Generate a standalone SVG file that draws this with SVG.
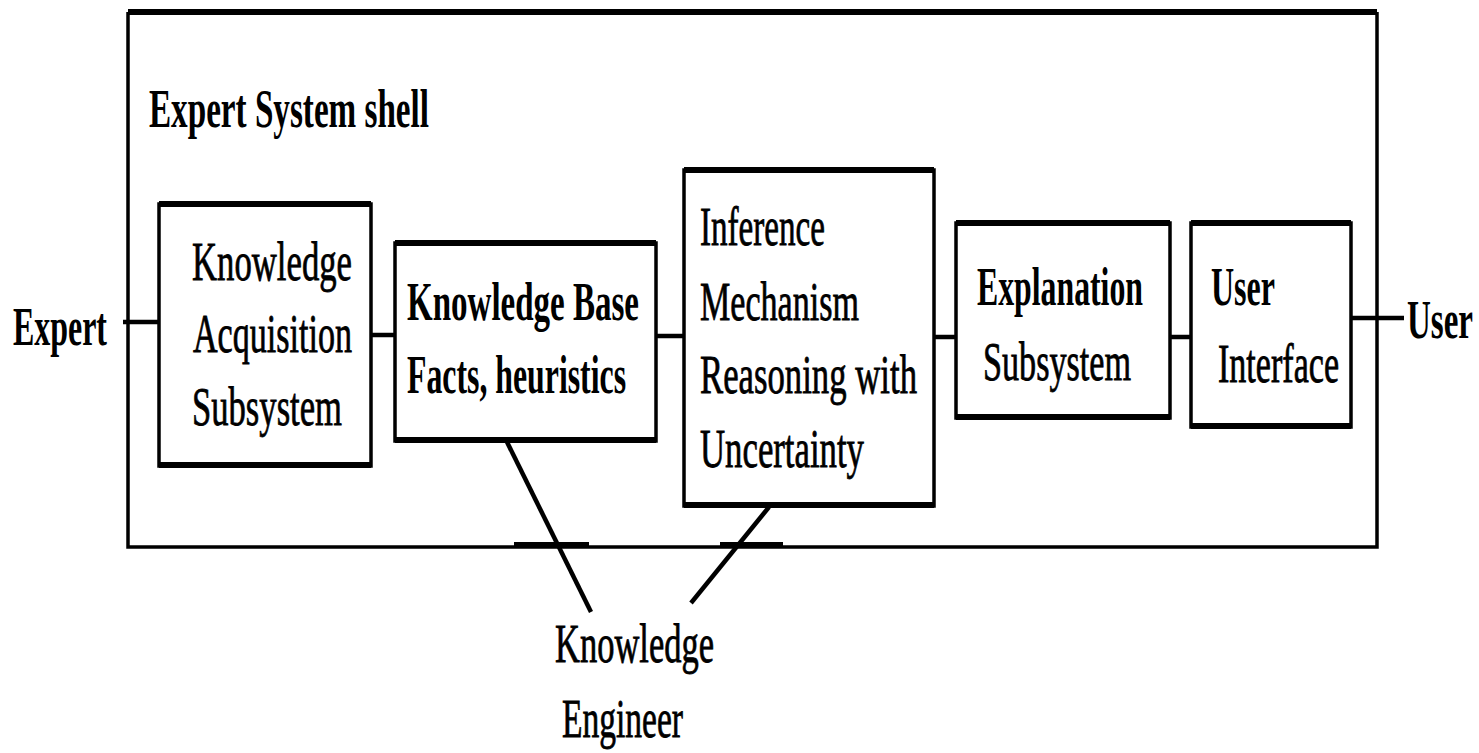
<svg xmlns="http://www.w3.org/2000/svg" width="1479" height="753" viewBox="0 0 1479 753">
<style>
.bg{fill:#ffffff}
.box{fill:#ffffff;stroke:#000;stroke-width:3.5}
.edge{fill:none;stroke:#000;stroke-width:3.5}
.link{fill:none;stroke:#000;stroke-width:4.5}
.thick{fill:none;stroke:#000;stroke-width:6}
.t{font-family:"Liberation Serif","DejaVu Serif",serif;font-size:54px;font-weight:bold;fill:#000}
.n{font-weight:normal;stroke:#000;stroke-width:0.8}
</style>
<rect class="bg" x="0" y="0" width="1479" height="753"/>
<g id="shell">
<path class="edge" d="M128 12 V547 H1377 V12"/>
<path class="thick" d="M128 12 H1377"/>
<text class="t" x="149" y="127" textLength="280" lengthAdjust="spacingAndGlyphs">Expert System shell</text>
</g>
<g id="connectors">
<line class="link" x1="123" y1="322" x2="159" y2="322"/>
<line class="link" x1="371" y1="335" x2="395" y2="335"/>
<line class="link" x1="656" y1="336" x2="684" y2="336"/>
<line class="link" x1="934" y1="337" x2="956" y2="337"/>
<line class="link" x1="1170" y1="337" x2="1191" y2="337"/>
<line class="link" x1="1351" y1="318" x2="1404" y2="318"/>
<line class="link" x1="507" y1="442" x2="591" y2="612"/>
<line class="link" x1="769" y1="507" x2="691" y2="603"/>
<line class="thick" x1="514" y1="545" x2="589" y2="545"/>
<line class="thick" x1="720" y1="545" x2="783" y2="545"/>
</g>
<g id="expert">
<text class="t" x="13" y="345" textLength="94" lengthAdjust="spacingAndGlyphs">Expert</text>
</g>
<g id="knowledge-acquisition">
<rect class="box" x="159" y="204" width="212" height="262"/>
<path class="thick" d="M159 204 H371 M159 465 H371"/>
<text class="t n" x="192" y="280" textLength="160" lengthAdjust="spacingAndGlyphs">Knowledge</text>
<text class="t n" x="193" y="352" textLength="159" lengthAdjust="spacingAndGlyphs">Acquisition</text>
<text class="t n" x="192" y="425" textLength="150" lengthAdjust="spacingAndGlyphs">Subsystem</text>
</g>
<g id="knowledge-base">
<rect class="box" x="395" y="243" width="261" height="198"/>
<path class="thick" d="M395 243 H656 M395 440 H656"/>
<text class="t" x="407" y="320" textLength="232" lengthAdjust="spacingAndGlyphs">Knowledge Base</text>
<text class="t" x="407" y="393" textLength="219" lengthAdjust="spacingAndGlyphs">Facts, heuristics</text>
</g>
<g id="inference">
<rect class="box" x="684" y="170" width="250" height="336"/>
<path class="thick" d="M684 170 H934 M684 505 H934"/>
<text class="t n" x="700" y="245" textLength="125" lengthAdjust="spacingAndGlyphs">Inference</text>
<text class="t n" x="700" y="320" textLength="159" lengthAdjust="spacingAndGlyphs">Mechanism</text>
<text class="t n" x="700" y="393" textLength="217" lengthAdjust="spacingAndGlyphs">Reasoning with</text>
<text class="t n" x="700" y="467" textLength="164" lengthAdjust="spacingAndGlyphs">Uncertainty</text>
</g>
<g id="explanation">
<rect class="box" x="956" y="223" width="214" height="195"/>
<path class="thick" d="M956 223 H1170 M956 417 H1170"/>
<text class="t" x="977" y="305" textLength="166" lengthAdjust="spacingAndGlyphs">Explanation</text>
<text class="t n" x="983" y="380" textLength="148" lengthAdjust="spacingAndGlyphs">Subsystem</text>
</g>
<g id="user-interface">
<rect class="box" x="1191" y="223" width="160" height="204"/>
<path class="thick" d="M1191 223 H1351 M1191 426 H1351"/>
<text class="t" x="1211" y="305" textLength="64" lengthAdjust="spacingAndGlyphs">User</text>
<text class="t n" x="1218" y="382" textLength="121" lengthAdjust="spacingAndGlyphs">Interface</text>
</g>
<g id="user">
<text class="t" x="1407" y="338" textLength="66" lengthAdjust="spacingAndGlyphs">User</text>
</g>
<g id="knowledge-engineer">
<text class="t n" x="555" y="662" textLength="159" lengthAdjust="spacingAndGlyphs">Knowledge</text>
<text class="t n" x="562" y="737" textLength="121" lengthAdjust="spacingAndGlyphs">Engineer</text>
</g>
</svg>
